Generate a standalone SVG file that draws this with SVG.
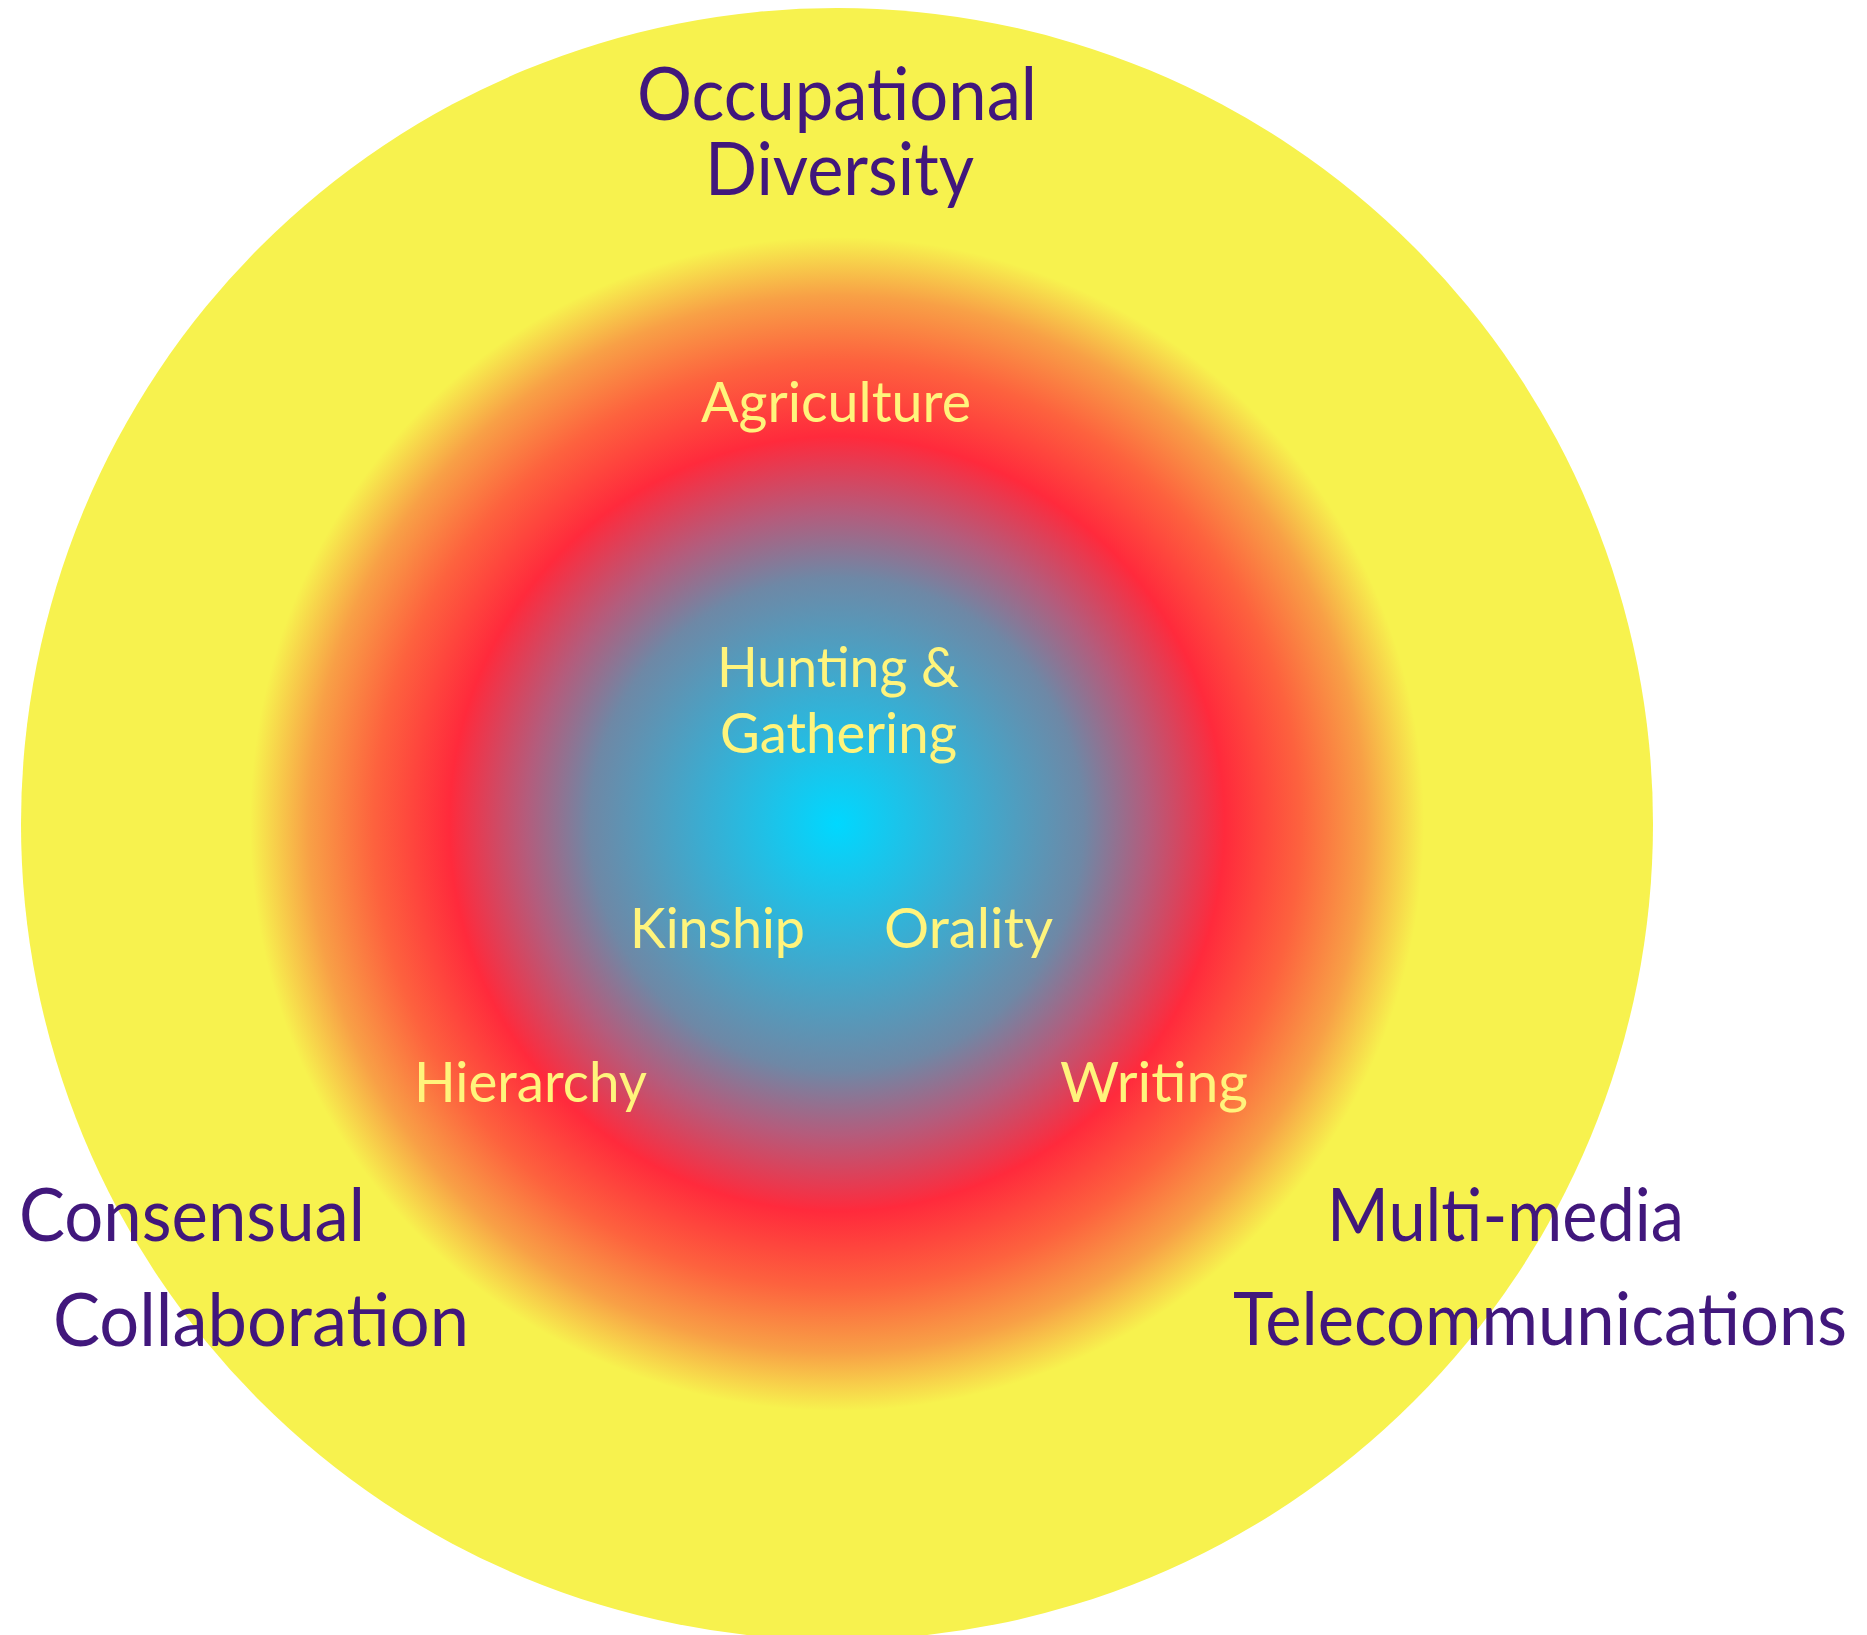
<svg xmlns="http://www.w3.org/2000/svg" width="1867" height="1635" viewBox="0 0 1867 1635">
  <defs>
    <radialGradient id="core" cx="837" cy="824" r="587" gradientUnits="userSpaceOnUse">
      <stop offset="0" stop-color="#00D8FF"/>
      <stop offset="0.22" stop-color="#38AED3"/>
      <stop offset="0.42" stop-color="#6E88A6"/>
      <stop offset="0.53" stop-color="#B45C7C"/>
      <stop offset="0.66" stop-color="#FF2A3C"/>
      <stop offset="0.79" stop-color="#FD623E"/>
      <stop offset="0.9" stop-color="#F8A046"/>
      <stop offset="1" stop-color="#F7F24E"/>
    </radialGradient>
    <style>
      .big { font-family: Lato, "Liberation Sans", sans-serif; font-size: 73px; fill: #41177C; }
      .small { font-family: Lato, "Liberation Sans", sans-serif; font-size: 56px; fill: #FFF47C; }
    </style>
  </defs>
  <rect width="1867" height="1635" fill="#FFFFFF"/>
  <g id="outer-ring">
    <circle cx="837" cy="824" r="816" fill="#F7F24E"/>
  </g>
  <g id="inner-gradient">
    <circle cx="837" cy="824" r="587" fill="url(#core)"/>
  </g>
  <g id="connectors"/>
  <g id="node-occupational-diversity">
    <text class="big" x="637" y="120" textLength="400" lengthAdjust="spacingAndGlyphs">Occupational</text>
    <text class="big" x="705" y="195" textLength="269" lengthAdjust="spacingAndGlyphs">Diversity</text>
  </g>
  <g id="node-consensual-collaboration">
    <text class="big" x="19" y="1241" textLength="346" lengthAdjust="spacingAndGlyphs">Consensual</text>
    <text class="big" x="53" y="1346" textLength="416" lengthAdjust="spacingAndGlyphs">Collaboration</text>
  </g>
  <g id="node-multimedia-telecommunications">
    <text class="big" x="1327" y="1241" textLength="357" lengthAdjust="spacingAndGlyphs">Multi-media</text>
    <text class="big" x="1233" y="1345" textLength="614" lengthAdjust="spacingAndGlyphs">Telecommunications</text>
  </g>
  <g id="node-agriculture">
    <text class="small" x="701" y="422" textLength="270" lengthAdjust="spacingAndGlyphs">Agriculture</text>
  </g>
  <g id="node-hunting-gathering">
    <text class="small" x="717" y="687" textLength="242" lengthAdjust="spacingAndGlyphs">Hunting &amp;</text>
    <text class="small" x="720" y="753" textLength="237" lengthAdjust="spacingAndGlyphs">Gathering</text>
  </g>
  <g id="node-kinship">
    <text class="small" x="630" y="948" textLength="175" lengthAdjust="spacingAndGlyphs">Kinship</text>
  </g>
  <g id="node-orality">
    <text class="small" x="884" y="948" textLength="169" lengthAdjust="spacingAndGlyphs">Orality</text>
  </g>
  <g id="node-hierarchy">
    <text class="small" x="414" y="1102" textLength="233" lengthAdjust="spacingAndGlyphs">Hierarchy</text>
  </g>
  <g id="node-writing">
    <text class="small" x="1060" y="1102" textLength="188" lengthAdjust="spacingAndGlyphs">Writing</text>
  </g>
</svg>
